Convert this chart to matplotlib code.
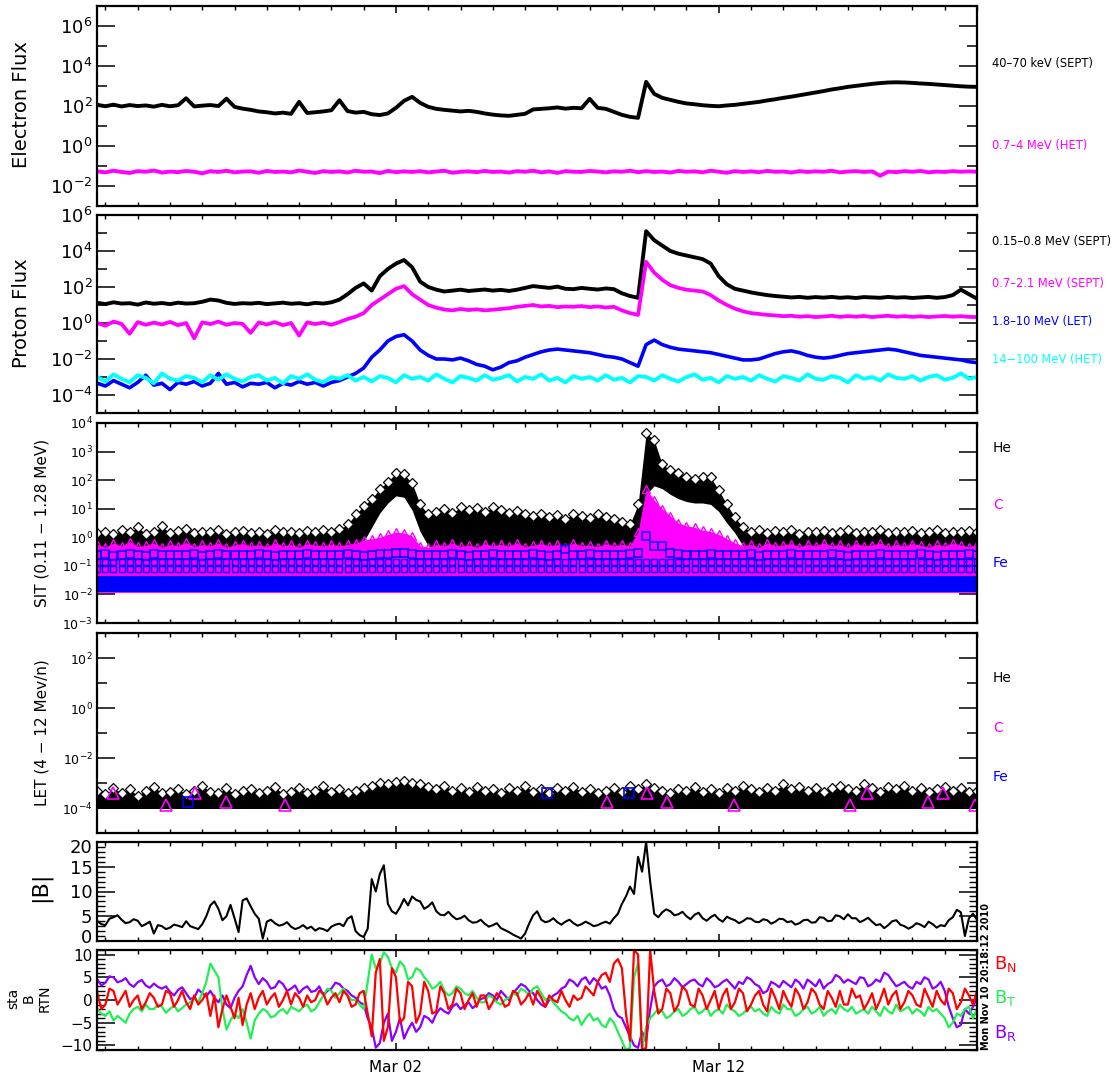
import numpy as np
import matplotlib
matplotlib.use("Agg")
import matplotlib.pyplot as plt
from matplotlib.ticker import FixedLocator, FixedFormatter, NullFormatter
from matplotlib.transforms import ScaledTranslation

plt.rcParams['font.family'] = ['DejaVu Sans']
plt.rcParams['mathtext.default'] = 'regular'

# ---------------- data (time in days from Mar 02 00:00) -------------
T = np.arange(110) * 0.25 - 9.25          # 6-hour grid for particle data
T_B = np.arange(219) * 0.125 - 9.25       # 3-hour grid for magnetic field

# Electron flux (log10)
E_SEPT = [2.05,1.98,2.06,1.97,2.04,1.99,2.02,1.96,2.05,1.98,
          2.03,2.38,1.97,2.01,2.04,1.99,2.36,1.95,1.86,1.80,
          1.72,1.68,1.62,1.66,1.60,2.20,1.64,1.68,1.72,1.78,
          2.28,1.74,1.66,1.70,1.58,1.54,1.62,1.90,2.25,2.45,
          2.15,1.95,1.85,1.80,1.76,1.72,1.75,1.70,1.62,1.56,
          1.52,1.50,1.55,1.60,1.82,1.85,1.88,1.92,1.86,1.90,
          1.88,2.35,1.90,1.85,1.70,1.55,1.45,1.40,3.20,2.60,
          2.40,2.30,2.20,2.12,2.08,2.03,2.00,1.98,2.02,2.05,
          2.10,2.15,2.20,2.27,2.33,2.40,2.46,2.53,2.60,2.67,
          2.74,2.82,2.88,2.95,3.00,3.05,3.10,3.14,3.17,3.18,
          3.17,3.15,3.12,3.10,3.07,3.04,3.01,2.98,2.96,2.95]
E_HET = [-1.28,-1.33,-1.25,-1.31,-1.36,-1.27,-1.30,-1.24,-1.34,-1.29,
         -1.32,-1.26,-1.30,-1.38,-1.27,-1.31,-1.25,-1.33,-1.29,-1.28,
         -1.35,-1.26,-1.31,-1.29,-1.33,-1.24,-1.30,-1.36,-1.27,-1.31,
         -1.28,-1.34,-1.25,-1.30,-1.29,-1.37,-1.26,-1.32,-1.28,-1.31,
         -1.27,-1.33,-1.29,-1.25,-1.35,-1.30,-1.28,-1.32,-1.26,-1.31,
         -1.29,-1.34,-1.27,-1.30,-1.25,-1.33,-1.28,-1.36,-1.27,-1.30,
         -1.31,-1.26,-1.29,-1.33,-1.28,-1.30,-1.25,-1.32,-1.27,-1.31,
         -1.29,-1.34,-1.26,-1.30,-1.28,-1.33,-1.25,-1.30,-1.35,-1.27,
         -1.31,-1.28,-1.32,-1.26,-1.30,-1.29,-1.34,-1.27,-1.31,-1.28,
         -1.30,-1.25,-1.33,-1.29,-1.27,-1.31,-1.28,-1.50,-1.29,-1.32,
         -1.27,-1.30,-1.26,-1.33,-1.29,-1.31,-1.27,-1.30,-1.28,-1.30]

# Proton flux (log10)
P_SEPT_LO = [1.12,1.05,1.15,1.08,1.10,1.02,1.14,1.07,1.11,1.05,
             1.13,1.08,1.10,1.18,1.30,1.25,1.12,1.06,1.10,1.08,
             1.12,1.05,1.09,1.13,1.07,1.10,1.04,1.12,1.08,1.15,
             1.30,1.60,1.95,2.20,1.80,2.60,3.00,3.30,3.50,3.10,
             2.30,2.00,1.85,1.75,1.80,1.85,1.78,1.82,1.86,1.80,
             1.84,1.78,1.85,1.95,2.05,2.00,1.95,2.02,1.90,1.88,
             1.95,1.90,1.86,1.92,1.88,1.65,1.50,1.40,5.10,4.60,
             4.30,4.00,3.85,3.75,3.65,3.55,3.30,2.60,2.15,1.90,
             1.80,1.70,1.62,1.55,1.50,1.46,1.42,1.45,1.40,1.44,
             1.41,1.45,1.40,1.43,1.39,1.44,1.42,1.40,1.45,1.41,
             1.43,1.39,1.42,1.45,1.40,1.44,1.55,1.85,1.60,1.35]
P_SEPT_HI = [0.00,-0.15,0.08,-0.05,-0.60,0.05,-0.10,0.02,-0.08,0.06,
             -0.12,0.00,-0.85,0.04,-0.06,0.08,-0.10,0.00,-0.05,-0.55,
             0.03,-0.08,0.05,-0.12,0.00,-0.70,0.04,-0.06,0.02,-0.10,
             0.05,0.22,0.35,0.55,1.00,1.30,1.60,1.90,2.05,1.60,
             1.30,1.00,0.85,0.75,0.70,0.78,0.72,0.76,0.70,0.74,
             0.78,0.82,0.90,0.95,1.00,0.92,0.95,0.88,0.92,0.90,
             0.94,0.88,0.92,0.86,0.90,0.70,0.55,0.45,3.40,2.80,
             2.40,2.10,1.95,1.85,1.80,1.75,1.55,1.25,1.00,0.80,
             0.65,0.55,0.50,0.45,0.42,0.38,0.40,0.35,0.38,0.33,
             0.36,0.40,0.34,0.38,0.35,0.39,0.33,0.37,0.40,0.35,
             0.38,0.34,0.37,0.33,0.36,0.39,0.35,0.38,0.34,0.33]
P_LET = [-3.35,-3.50,-3.20,-3.40,-3.60,-3.30,-2.90,-3.45,-3.35,-3.70,
         -3.30,-3.40,-3.25,-3.50,-3.35,-2.80,-3.40,-3.30,-3.55,-3.35,
         -3.40,-3.30,-3.60,-3.35,-3.45,-3.25,-3.40,-3.30,-3.50,-3.30,
         -3.20,-3.00,-2.80,-2.50,-1.90,-1.50,-1.00,-0.75,-0.65,-1.00,
         -1.50,-1.80,-2.00,-2.00,-2.05,-1.95,-2.10,-2.30,-2.40,-2.60,
         -2.45,-2.20,-2.10,-1.90,-1.75,-1.60,-1.50,-1.45,-1.50,-1.55,
         -1.60,-1.65,-1.75,-1.85,-1.90,-2.00,-2.20,-2.40,-1.20,-0.95,
         -1.20,-1.35,-1.45,-1.50,-1.55,-1.60,-1.65,-1.75,-1.85,-1.95,
         -2.05,-2.05,-2.00,-1.85,-1.70,-1.60,-1.55,-1.65,-1.80,-1.90,
         -1.95,-1.90,-1.80,-1.70,-1.65,-1.60,-1.55,-1.50,-1.45,-1.50,
         -1.60,-1.70,-1.80,-1.85,-1.90,-1.95,-2.00,-2.05,-2.15,-2.20]
P_HET = [-3.00,-3.25,-2.85,-3.10,-3.30,-2.90,-3.05,-3.35,-2.80,-3.10,
         -3.20,-2.95,-3.05,-3.30,-2.90,-3.15,-2.85,-3.10,-3.25,-3.00,
         -2.90,-3.20,-3.05,-3.35,-2.95,-3.10,-2.85,-3.15,-3.30,-3.00,
         -3.10,-2.90,-3.20,-3.00,-3.25,-2.95,-3.05,-3.30,-2.90,-3.10,
         -3.00,-3.20,-2.85,-3.10,-3.30,-2.95,-3.05,-3.20,-2.90,-3.15,
         -3.05,-2.90,-3.25,-3.00,-3.10,-2.85,-3.20,-3.05,-3.30,-2.95,
         -3.10,-3.00,-3.20,-2.90,-3.15,-3.05,-3.30,-2.95,-3.00,-3.20,
         -2.90,-3.10,-3.25,-3.00,-2.85,-3.15,-3.05,-3.30,-2.95,-3.10,
         -3.00,-3.20,-2.90,-3.10,-3.25,-2.95,-3.05,-3.20,-2.85,-3.10,
         -3.15,-2.95,-3.05,-3.30,-2.90,-3.10,-3.00,-3.20,-2.85,-3.05,
         -3.10,-2.95,-3.20,-3.00,-2.90,-3.15,-3.05,-2.80,-3.10,-3.00]

# SIT (log10): He upper / lower envelope, C upper, Fe top row
SIT_HE_HI = [0.15,0.20,0.10,0.25,0.18,0.35,0.12,0.20,0.38,0.15,
             0.22,0.30,0.14,0.20,0.17,0.25,0.10,0.18,0.23,0.15,
             0.20,0.12,0.25,0.17,0.20,0.14,0.22,0.18,0.25,0.20,
             0.28,0.45,0.80,1.10,1.35,1.70,1.95,2.25,2.20,1.90,
             1.15,0.80,0.90,1.00,0.85,1.05,0.95,1.03,0.90,1.05,
             0.97,0.85,0.93,0.80,0.75,0.83,0.70,0.77,0.65,0.80,
             0.73,0.67,0.80,0.70,0.65,0.55,0.45,1.15,3.65,3.40,
             2.55,2.35,2.25,2.10,2.05,2.10,2.10,1.65,1.15,0.70,
             0.35,0.20,0.25,0.15,0.22,0.18,0.25,0.12,0.20,0.17,
             0.23,0.15,0.20,0.26,0.14,0.20,0.18,0.24,0.15,0.20,
             0.17,0.23,0.15,0.20,0.26,0.16,0.20,0.18,0.23,0.20]
SIT_HE_LO = [-0.50,-0.50,-0.50,-0.50,-0.50,-0.50,-0.50,-0.50,-0.50,-0.50,
             -0.50,-0.50,-0.50,-0.50,-0.50,-0.50,-0.50,-0.50,-0.50,-0.50,
             -0.50,-0.50,-0.50,-0.50,-0.50,-0.50,-0.50,-0.50,-0.50,-0.50,
             -0.50,-0.45,-0.30,-0.15,0.35,0.85,1.20,1.45,1.40,0.95,
             0.20,-0.30,-0.50,-0.50,-0.50,-0.50,-0.50,-0.50,-0.50,-0.50,
             -0.50,-0.50,-0.50,-0.50,-0.50,-0.50,-0.50,-0.50,-0.50,-0.50,
             -0.50,-0.50,-0.50,-0.50,-0.50,-0.50,-0.50,0.10,1.50,1.80,
             1.70,1.50,1.35,1.25,1.20,1.20,1.15,0.90,0.50,0.15,
             -0.30,-0.45,-0.45,-0.45,-0.45,-0.45,-0.45,-0.45,-0.45,-0.45,
             -0.45,-0.45,-0.45,-0.45,-0.45,-0.45,-0.45,-0.45,-0.45,-0.45,
             -0.45,-0.45,-0.45,-0.45,-0.45,-0.45,-0.45,-0.45,-0.45,-0.45]
SIT_C_HI = [-0.25,-0.35,-0.20,-0.30,-0.15,-0.32,-0.28,-0.20,-0.35,-0.25,
            -0.30,-0.18,-0.33,-0.25,-0.30,-0.20,-0.35,-0.27,-0.22,-0.30,
            -0.26,-0.33,-0.20,-0.30,-0.25,-0.35,-0.22,-0.28,-0.30,-0.24,
            -0.30,-0.25,-0.20,-0.10,-0.05,0.00,0.10,0.18,0.15,0.05,
            -0.30,-0.35,-0.25,-0.30,-0.20,-0.32,-0.27,-0.35,-0.22,-0.30,
            -0.25,-0.30,-0.20,-0.33,-0.28,-0.22,-0.30,-0.25,-0.35,-0.20,
            -0.30,-0.27,-0.33,-0.22,-0.30,-0.25,-0.30,0.20,1.70,1.30,
            1.00,0.75,0.50,0.40,0.35,0.25,0.20,0.10,-0.05,-0.20,
            -0.30,-0.25,-0.35,-0.20,-0.30,-0.27,-0.22,-0.33,-0.25,-0.30,
            -0.20,-0.30,-0.25,-0.35,-0.22,-0.30,-0.27,-0.20,-0.33,-0.25,
            -0.30,-0.22,-0.28,-0.35,-0.25,-0.30,-0.20,-0.27,-0.33,-0.25]
SIT_C_FLOOR = -1.93
SIT_FE_TOP = [-0.62,-0.60,-0.64,-0.62,-0.58,-0.62,-0.65,-0.60,-0.62,-0.63,
              -0.61,-0.62,-0.60,-0.64,-0.62,-0.59,-0.62,-0.63,-0.61,-0.62,
              -0.60,-0.62,-0.64,-0.62,-0.61,-0.62,-0.60,-0.63,-0.62,-0.61,
              -0.62,-0.60,-0.62,-0.64,-0.62,-0.60,-0.58,-0.55,-0.55,-0.60,
              -0.62,-0.61,-0.63,-0.62,-0.60,-0.62,-0.64,-0.61,-0.62,-0.60,
              -0.62,-0.63,-0.61,-0.62,-0.60,-0.62,-0.64,-0.62,-0.42,-0.61,
              -0.62,-0.60,-0.63,-0.62,-0.61,-0.62,-0.60,-0.55,0.05,-0.30,
              -0.30,-0.55,-0.60,-0.62,-0.61,-0.62,-0.60,-0.63,-0.62,-0.61,
              -0.62,-0.60,-0.64,-0.62,-0.61,-0.62,-0.60,-0.63,-0.62,-0.61,
              -0.62,-0.60,-0.62,-0.64,-0.62,-0.61,-0.62,-0.60,-0.63,-0.62,
              -0.61,-0.62,-0.60,-0.62,-0.64,-0.62,-0.61,-0.62,-0.60,-0.62]
SIT_FE_ROWS = [-0.88, -1.12]
SIT_FE_BAND = (-1.93, -1.36)

# LET (log10)
LET_HE_HI = [-3.30,-3.45,-3.20,-3.40,-3.25,-3.50,-3.30,-3.15,-3.40,-3.35,
             -3.25,-3.45,-3.30,-3.10,-3.35,-3.40,-3.20,-3.45,-3.30,-3.25,
             -3.40,-3.30,-3.15,-3.45,-3.35,-3.20,-3.40,-3.30,-3.10,-3.35,
             -3.25,-3.40,-3.30,-3.20,-3.10,-3.00,-3.05,-2.95,-2.90,-3.00,
             -3.05,-3.15,-3.25,-3.10,-3.30,-3.20,-3.35,-3.15,-3.30,-3.25,
             -3.40,-3.20,-3.30,-3.10,-3.35,-3.25,-3.40,-3.20,-3.30,-3.15,
             -3.35,-3.25,-3.40,-3.30,-3.20,-3.35,-3.10,-3.25,-3.05,-3.20,
             -3.30,-3.40,-3.25,-3.30,-3.15,-3.35,-3.25,-3.40,-3.20,-3.30,
             -3.10,-3.25,-3.35,-3.20,-3.30,-3.05,-3.25,-3.15,-3.30,-3.20,
             -3.35,-3.20,-3.10,-3.25,-3.30,-3.05,-3.20,-3.35,-3.15,-3.25,
             -3.10,-3.30,-3.20,-3.35,-3.25,-3.15,-3.30,-3.20,-3.35,-3.30]
LET_HE_FLOOR = -4.02
LET_C_T = [-8.77,-7.13,-6.23,-5.27,-3.44,6.54,7.78,8.40,10.47,14.07,14.60,16.49,16.95,17.94]
LET_C_V = [-3.40,-3.88,-3.40,-3.75,-3.88,-3.75,-3.41,-3.75,-3.88,-3.88,-3.41,-3.75,-3.41,-3.88]
LET_FE_T = [-6.45, 4.68, 7.22]
LET_FE_V = [-3.75, -3.41, -3.41]

# |B| (nT): values on the 6-h points and the 3-h points between them
BMAG_A = [4.0,3.2,4.8,4.3,3.8,4.1,3.4,1.5,3.0,2.7,
          3.1,4.0,2.7,3.4,7.2,6.5,5.0,4.6,8.2,7.0,
          4.5,3.9,3.6,3.3,2.9,2.7,2.5,2.1,2.4,2.9,
          3.5,4.5,2.0,0.8,12.5,13.5,7.5,5.5,8.5,9.0,
          8.0,7.0,6.0,5.2,5.0,4.6,4.2,3.8,3.5,3.2,
          2.6,1.8,0.9,1.5,5.2,4.3,4.0,3.8,3.9,3.6,
          3.4,3.5,3.2,3.9,4.6,7.5,11.0,17.0,20.0,5.5,
          5.8,6.0,5.4,5.0,5.3,4.6,4.8,4.4,4.9,4.2,
          4.0,4.5,3.8,4.2,3.9,4.4,4.0,3.6,4.3,3.8,
          4.7,4.1,5.0,5.4,4.6,4.2,3.9,3.4,3.2,4.2,
          3.0,2.9,3.3,3.9,2.7,3.0,4.8,5.8,4.6,4.3]
BMAG_B = [3.4,4.5,5.2,3.6,4.4,3.0,3.9,3.2,2.4,3.3,
          2.8,3.0,2.4,5.0,8.0,4.2,7.3,1.8,8.6,5.5,
          0.5,4.3,3.1,3.8,2.4,3.2,2.9,2.6,2.0,3.3,
          3.0,5.0,1.2,2.5,10.0,15.3,6.0,6.8,7.2,8.3,
          6.5,7.8,5.3,5.9,4.4,5.1,3.7,4.3,2.9,3.6,
          2.2,1.3,0.5,3.5,6.0,3.8,4.6,3.3,4.3,3.1,
          3.9,3.0,3.6,3.5,5.5,9.0,9.5,14.0,12.0,4.8,
          6.4,5.2,5.9,4.4,5.7,4.1,5.3,3.9,4.5,3.6,
          4.6,3.9,4.4,3.5,4.5,3.8,3.3,4.2,3.7,4.8,
          4.0,5.2,4.4,4.6,3.8,4.7,3.2,2.6,4.0,3.3,
          2.5,3.6,2.8,3.4,3.2,4.2,6.3,1.0,5.5]

# B RTN components (nT), same two-level layout
BR_A = [4.5,3.8,5.0,4.2,3.5,3.9,3.2,3.6,2.5,1.8,
        2.2,1.5,0.5,1.5,2.0,-0.5,-1.0,0.5,3.0,7.5,
        3.5,4.0,2.8,3.5,2.5,1.5,3.0,2.0,1.0,2.5,
        3.5,2.0,0.5,-1.0,-6.0,-9.5,-3.0,-7.0,-8.5,-5.0,
        -6.0,-4.0,-3.0,-2.5,-1.5,-2.0,-0.5,-1.0,0.5,1.0,
        2.0,0.0,2.5,3.0,1.5,-1.0,0.0,1.5,3.0,4.0,
        4.5,3.5,4.0,3.0,-2.0,-4.0,-8.0,-10.5,-9.0,3.0,
        4.5,3.5,4.0,3.5,4.5,3.0,4.0,3.2,4.5,2.5,
        3.5,4.5,3.0,2.0,3.5,4.2,2.8,3.8,4.5,3.0,
        2.5,4.0,5.0,4.5,3.5,4.8,3.5,4.0,5.5,3.0,
        4.0,2.5,3.5,4.5,3.0,2.0,-4.0,-5.5,-3.0,0.5]
BR_B = [3.2,5.2,3.9,4.8,2.9,4.4,2.7,2.9,3.0,1.0,
        2.8,0.2,2.3,0.8,0.5,1.0,-1.8,2.0,5.5,5.0,
        4.8,2.5,4.2,2.0,3.2,2.5,1.8,3.0,2.0,3.8,
        2.5,1.0,-0.5,-4.0,-10.5,-5.0,-9.0,-4.0,-6.5,-7.0,
        -3.5,-5.0,-1.8,-3.0,-0.8,-1.2,-1.8,0.2,1.5,0.0,
        1.0,1.5,3.5,2.0,0.0,-1.5,1.0,2.5,4.5,3.0,
        5.0,4.8,2.5,1.0,-3.5,-6.0,-10.0,-7.0,-2.0,4.0,
        3.0,4.8,2.8,4.2,3.5,4.8,2.8,4.0,3.5,4.0,
        5.0,3.5,1.5,4.0,2.8,3.5,4.5,2.5,3.8,4.5,
        3.5,5.5,3.8,4.0,5.0,3.0,4.5,6.0,4.2,3.5,
        3.0,4.0,5.0,2.5,4.0,-1.5,-6.0,-2.0,-1.5]
BT_A = [-2.0,-3.5,-4.5,-4.2,-3.0,-1.5,-1.0,-2.0,-1.5,-2.0,
        -2.5,-1.0,0.5,1.5,8.0,5.0,-6.5,-3.0,-2.0,-8.5,
        -3.0,-2.5,-3.5,-2.0,-1.5,-2.5,-1.0,-2.0,1.0,2.0,
        1.5,1.0,0.0,-2.0,10.0,8.0,9.5,6.0,7.5,5.0,
        6.5,4.0,3.0,2.0,1.5,2.5,1.0,0.5,-0.5,0.5,
        -1.0,0.5,1.0,2.0,2.5,1.5,0.5,-1.5,-3.0,-4.5,
        -5.5,-3.0,-4.0,-6.0,-5.0,-9.0,-10.5,8.0,-6.0,-3.0,
        -2.5,-3.5,-2.0,-3.0,-1.5,-2.5,-3.5,-2.0,-1.0,-2.5,
        -3.0,-1.5,-2.0,-3.5,-2.5,-1.0,-2.0,-3.0,-1.5,-2.5,
        -3.5,-2.0,-1.0,-2.5,-3.0,-2.0,-1.5,-3.5,-2.5,-1.0,
        -2.0,-3.0,-2.5,-1.5,-2.0,-4.0,-5.0,-3.5,-1.5,-2.0]
BT_B = [-3.0,-2.5,-3.5,-5.0,-2.0,-2.5,-2.0,-1.0,-2.8,-1.2,
        -1.8,-0.5,-0.5,4.0,6.5,-2.0,-4.5,-4.0,-5.0,-4.5,
        -2.0,-3.8,-2.5,-3.0,-2.0,-1.5,-2.5,-0.5,2.5,0.5,
        2.5,0.0,-1.0,4.0,7.0,10.5,7.0,8.5,4.5,7.0,
        5.0,2.5,4.0,1.0,3.0,1.5,2.0,-0.5,1.0,-0.5,
        0.0,1.5,2.5,1.0,3.0,0.0,-0.5,-2.5,-4.0,-3.5,
        -4.0,-4.5,-5.5,-4.0,-7.0,-11.0,5.0,-11.0,-4.0,-2.0,
        -4.0,-2.5,-3.5,-2.0,-3.0,-1.5,-2.5,-3.0,-2.0,-3.5,
        -2.0,-2.5,-3.0,-1.5,-3.0,-2.0,-3.5,-2.0,-3.0,-1.5,
        -2.5,-3.0,-2.0,-1.5,-2.5,-3.0,-2.5,-1.5,-3.0,-2.5,
        -1.5,-2.0,-3.5,-2.5,-3.0,-6.0,-3.0,-2.0,-4.0]
BN_A = [1.5,-1.0,2.0,0.5,-1.5,1.0,-0.5,0.5,-1.0,1.5,
        0.0,-0.5,1.0,0.0,-3.5,-6.0,1.0,-4.0,-5.5,1.5,
        0.5,-1.0,1.5,0.0,-1.0,0.5,1.0,0.0,1.5,0.5,
        -0.5,1.0,-1.0,2.0,-8.0,9.0,-6.0,5.0,-4.0,3.0,
        -3.0,2.0,-2.5,1.5,-1.0,1.5,0.0,-1.5,1.0,-0.5,
        0.5,-1.0,1.5,0.0,-1.0,0.5,1.0,-0.5,0.0,1.0,
        0.5,2.0,4.0,6.0,8.0,7.0,-9.0,10.0,-10.5,2.0,
        -2.0,1.5,-1.0,2.0,-1.5,1.0,0.0,-2.0,2.5,-0.5,
        1.5,-1.0,2.0,-2.5,0.5,2.0,-1.5,1.0,-0.5,1.5,
        -2.0,0.5,2.0,-1.0,0.5,-2.0,1.5,0.0,-1.0,2.0,
        -0.5,1.0,-1.5,0.5,2.0,-1.0,1.5,-0.5,1.0,2.0]
BN_B = [-2.0,2.5,-1.0,2.0,0.0,-2.0,1.5,-1.5,2.0,-1.5,
        2.0,-2.0,-1.0,1.5,1.0,-2.0,-1.5,0.5,-1.0,-2.0,
        2.0,0.5,-1.5,2.0,1.5,-1.5,-0.5,2.0,-1.0,1.5,
        2.0,-1.5,1.5,-3.0,6.0,-9.0,7.0,-5.0,4.0,-5.0,
        4.0,-3.0,3.0,-2.0,2.5,-2.0,1.5,1.0,-2.0,1.5,
        -1.5,2.0,-1.0,1.5,2.0,-1.5,0.0,2.0,-1.5,0.0,
        3.0,1.0,5.5,4.0,9.0,-3.0,11.0,-11.0,11.0,-3.0,
        2.5,-2.5,3.0,-1.0,2.5,-2.0,2.0,1.0,-2.0,2.5,
        -2.5,1.0,-1.0,2.5,-2.0,0.0,2.5,-2.0,2.5,-1.0,
        2.0,-1.5,-1.0,2.5,1.0,-0.5,-2.0,2.5,1.0,-2.0,
        2.0,-1.0,2.5,-1.5,0.0,2.5,-2.0,2.5,-1.0]

X_MAJOR = [0, 10]
X_LABELS = ['Mar 02', 'Mar 12']
X_MINOR = list(range(-9, 19))
XLIM = (-9.27, 18.0)


def merge(a, b):
    out = np.empty(len(a) + len(b))
    out[0::2] = a
    out[1::2] = b
    return out


# ---------------- figure ----------------
W, H = 1119, 1076
fig = plt.figure(figsize=(W / 100, H / 100), dpi=100)
L, R = 96.7, 977.0
MAG = '#ff00ff'
BLUE = '#0000ff'
CYAN = '#00ffff'
PURPLE = '#8a00ff'
GREEN = '#22ee55'
RED = '#ff0000'


def pct(v):
    return 10.0 ** np.asarray(v, dtype=float)


def add_ax(top, bottom):
    ax = fig.add_axes([L / W, 1 - bottom / H, (R - L) / W, (bottom - top) / H])
    for s in ax.spines.values():
        s.set_linewidth(1.6)
    ax.set_xlim(*XLIM)
    ax.set_xticks(X_MAJOR)
    ax.set_xticks(X_MINOR, minor=True)
    ax.xaxis.set_minor_formatter(NullFormatter())
    ax.set_xticklabels([])
    ax.tick_params(axis='x', which='major', direction='in', length=5, width=1.1,
                   top=True, bottom=True)
    ax.tick_params(axis='x', which='minor', direction='in', length=3, width=1.0,
                   top=True, bottom=True)
    return ax


def set_log_y(ax, lo, hi, major, minor, fs):
    ax.set_yscale('log')
    ax.set_ylim(10.0 ** lo, 10.0 ** hi)
    ax.yaxis.set_major_locator(FixedLocator([10.0 ** e for e in major]))
    ax.yaxis.set_major_formatter(FixedFormatter([r'$10^{%d}$' % e for e in major]))
    ax.yaxis.set_minor_locator(FixedLocator([10.0 ** e for e in minor]))
    ax.yaxis.set_minor_formatter(NullFormatter())
    ax.tick_params(axis='y', which='major', direction='in', length=13, width=1.1,
                   left=True, right=True, labelsize=fs, pad=3)
    ax.tick_params(axis='y', which='minor', direction='in', length=7, width=1.1,
                   left=True, right=True)


def ftext(x, y, s, **kw):
    fig.text(x / W, 1 - y / H, s, **kw)


# Panel 1: electron flux
ax1 = add_ax(6, 205.7)
ax1.plot(T, pct(E_SEPT), color='black', lw=2.8)
ax1.plot(T, pct(E_HET), color=MAG, lw=2.8)
set_log_y(ax1, -3, 7, [-2, 0, 2, 4, 6], [-1, 1, 3, 5], 13)

# Panel 2: proton flux
ax2 = add_ax(215, 413)
ax2.plot(T, pct(P_SEPT_LO), color='black', lw=2.8)
ax2.plot(T, pct(P_SEPT_HI), color=MAG, lw=2.7)
ax2.plot(T, pct(P_LET), color=BLUE, lw=2.6)
ax2.plot(T, pct(P_HET), color=CYAN, lw=2.8)
set_log_y(ax2, -5, 6, [-4, -2, 0, 2, 4, 6], [-5, -3, -1, 1, 3, 5], 13)

# Panel 3: SIT
ax3 = add_ax(423, 623)
ax3.fill_between(T, pct(SIT_HE_LO), pct(SIT_HE_HI), color='black', lw=0)
ax3.plot(T, pct(SIT_HE_HI), ls='none', marker='D', ms=5, mfc='white', mec='black', mew=0.9)
ax3.fill_between(T, pct(SIT_C_FLOOR), pct(SIT_C_HI), color=MAG, lw=0)
ax3.plot(T, pct(SIT_C_HI), ls='none', marker='^', ms=6, mfc='none', mec=MAG, mew=1.0)
ax3.fill_between(T, pct(SIT_FE_BAND[0]), pct(SIT_FE_BAND[1]), color=BLUE, lw=0)
for lev in SIT_FE_ROWS:
    ax3.plot(T, np.full(len(T), 10.0 ** lev), ls='none', marker='s', ms=4.5,
             mfc='none', mec=BLUE, mew=1.0)
ax3.plot(T, pct(SIT_FE_TOP), ls='none', marker='s', ms=5.5, mfc='none', mec=BLUE, mew=1.1)
set_log_y(ax3, -3, 4, [-3, -2, -1, 0, 1, 2, 3, 4], [], 9)

# Panel 4: LET
ax4 = add_ax(633, 833)
ax4.fill_between(T, pct(LET_HE_FLOOR), pct(LET_HE_HI), color='black', lw=0)
ax4.plot(T, pct(LET_HE_HI), ls='none', marker='D', ms=5, mfc='white', mec='black', mew=0.9)
ax4.plot(LET_C_T, pct(LET_C_V), ls='none', marker='^', ms=8, mfc='none', mec=MAG, mew=1.2)
ax4.plot(LET_FE_T, pct(LET_FE_V), ls='none', marker='s', ms=7, mfc='none', mec=BLUE, mew=1.2)
set_log_y(ax4, -5, 3, [-4, -2, 0, 2], [-3, -1, 1], 9)

# Panel 5: |B|
ax5 = add_ax(842, 941)
ax5.plot(T_B, merge(BMAG_A, BMAG_B), color='black', lw=1.5)
ax5.set_ylim(0, 20)
ax5.yaxis.set_major_locator(FixedLocator([0, 5, 10, 15, 20]))
ax5.yaxis.set_major_formatter(FixedFormatter(['0', '5', '10', '15', '20']))
ax5.yaxis.set_minor_locator(FixedLocator(list(range(0, 21))))
ax5.tick_params(axis='y', which='major', direction='in', length=13, width=1.1,
                left=True, right=True, labelsize=13, pad=3)
ax5.tick_params(axis='y', which='minor', direction='in', length=6, width=1.0,
                left=True, right=True)
ticks5 = ax5.yaxis.get_major_ticks()
ticks5[0].label1.set_transform(ticks5[0].label1.get_transform()
                               + ScaledTranslation(0, 5 / 100, fig.dpi_scale_trans))
ticks5[-1].label1.set_transform(ticks5[-1].label1.get_transform()
                                + ScaledTranslation(0, -4 / 100, fig.dpi_scale_trans))

# Panel 6: B RTN
ax6 = add_ax(950, 1050)
ax6.plot(T_B, merge(BR_A, BR_B), color=PURPLE, lw=1.6)
ax6.plot(T_B, merge(BT_A, BT_B), color=GREEN, lw=1.6)
ax6.plot(T_B, merge(BN_A, BN_B), color=RED, lw=1.6)
ax6.set_ylim(-11, 11)
ax6.yaxis.set_major_locator(FixedLocator([-10, -5, 0, 5, 10]))
ax6.yaxis.set_major_formatter(FixedFormatter(['\u221210', '\u22125', '0', '5', '10']))
ax6.yaxis.set_minor_locator(FixedLocator(list(range(-11, 12))))
ax6.tick_params(axis='y', which='major', direction='in', length=13, width=1.1,
                left=True, right=True, labelsize=11, pad=3)
ax6.tick_params(axis='y', which='minor', direction='in', length=6, width=1.0,
                left=True, right=True)
ax6.set_xticklabels(X_LABELS)
ax6.tick_params(axis='x', which='major', labelsize=11, pad=7)

# ---------------- labels ----------------
ftext(22, 105, 'Electron Flux', rotation=90, ha='center', va='center', fontsize=14)
ftext(22, 313, 'Proton Flux', rotation=90, ha='center', va='center', fontsize=14)
ftext(42, 523, 'SIT (0.11 \u2212 1.28 MeV)', rotation=90, ha='center', va='center', fontsize=11)
ftext(42, 733, 'LET (4 \u2212 12 Mev/n)', rotation=90, ha='center', va='center', fontsize=11)
ftext(40, 887, '|B|', rotation=90, ha='center', va='center', fontsize=16)
ftext(29, 998, 'sta\nB\nRTN', rotation=90, ha='center', va='center', fontsize=10,
      linespacing=1.15)

rx = 992
RFS = 8.3
ftext(rx, 63, '40\u201370 keV (SEPT)', ha='left', va='center', fontsize=RFS, color='black')
ftext(rx, 146, '0.7\u20134 MeV (HET)', ha='left', va='center', fontsize=RFS, color=MAG)
ftext(rx, 242, '0.15\u20130.8 MeV (SEPT)', ha='left', va='center', fontsize=RFS, color='black')
ftext(rx, 283, '0.7\u20132.1 MeV (SEPT)', ha='left', va='center', fontsize=RFS, color=MAG)
ftext(rx, 322, '1.8\u201310 MeV (LET)', ha='left', va='center', fontsize=RFS, color=BLUE)
ftext(rx, 359, '14\u2212100 MeV (HET)', ha='left', va='center', fontsize=RFS, color=CYAN)

ftext(993, 448, 'He', ha='left', va='center', fontsize=10, color='black')
ftext(993, 505, 'C', ha='left', va='center', fontsize=10, color=MAG)
ftext(993, 563, 'Fe', ha='left', va='center', fontsize=10, color=BLUE)
ftext(993, 678, 'He', ha='left', va='center', fontsize=10, color='black')
ftext(993, 728, 'C', ha='left', va='center', fontsize=10, color=MAG)
ftext(993, 777, 'Fe', ha='left', va='center', fontsize=10, color=BLUE)

ftext(994, 964, r'B$_{N}$', ha='left', va='center', fontsize=13, color=RED)
ftext(994, 998, r'B$_{T}$', ha='left', va='center', fontsize=13, color=GREEN)
ftext(994, 1033, r'B$_{R}$', ha='left', va='center', fontsize=13, color=PURPLE)

ftext(986, 1050, 'Mon Nov 10 20:18:12 2010', rotation=90, ha='center', va='bottom',
      fontsize=7, fontweight='bold')

fig.savefig('out.png', dpi=100)
